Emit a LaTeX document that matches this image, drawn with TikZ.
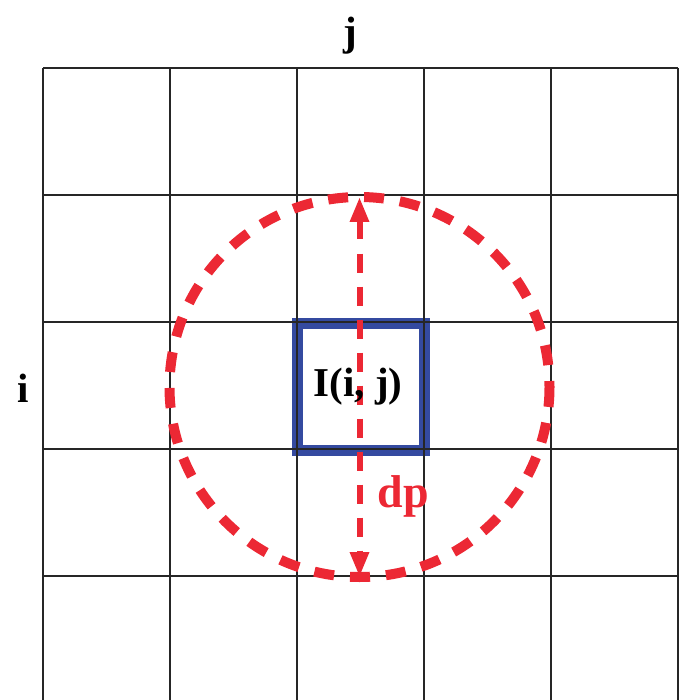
\documentclass[tikz,border=0pt]{standalone}
\usepackage{fontspec}
\setmainfont{Liberation Serif}
\usepackage{xcolor}
\usepackage{tikz}
\usetikzlibrary{arrows.meta}
\usetikzlibrary{positioning}

\definecolor{dpred}{RGB}{236,40,52}
\definecolor{cellblue}{RGB}{52,74,160}

\tikzset{
    gridline/.style={line width=1.3pt, black!85},
    ring/.style={dpred, line width=10pt, dash pattern=on 20pt off 16pt},
    span/.style={dpred, line width=6pt, dash pattern=on 19pt off 14pt, {Triangle[length=25pt,width=18pt]}-{Triangle[length=25pt,width=18pt]}},
    lbl/.style={font=\fontsize{41}{41}\selectfont\bfseries, inner sep=0pt}
}

\begin{document}
\begin{tikzpicture}[x=1pt, y=-1pt]
        \useasboundingbox (0,0) rectangle (683,700);
        % centre cell
        \draw[cellblue, line width=11pt] (297,323) rectangle (424,450);
        % grid
        \foreach \k in {0,...,5} {
            \draw[gridline] (43+127*\k,68) -- (43+127*\k,700);
        }
        \foreach \k in {0,...,4} {
            \draw[gridline] (43,68+127*\k) -- (678,68+127*\k);
        }
        % neighbourhood
        \draw[ring] (359.5,387) circle (190);
        \coordinate (top) at (359.5,197);
        \coordinate (bottom) at (359.5,577);
        \draw[span] (top) -- (bottom);
        \node[lbl] (cell) at (358,387) {I(i, j)};
        \node[lbl, dpred, font=\fontsize{46}{46}\selectfont\bfseries] (dp) at (403,496) {dp};
        \node[lbl] (colj) at (350,36) {j};
        \node[lbl] (rowi) at (23,388) {i};
    \end{tikzpicture}
\end{document}
